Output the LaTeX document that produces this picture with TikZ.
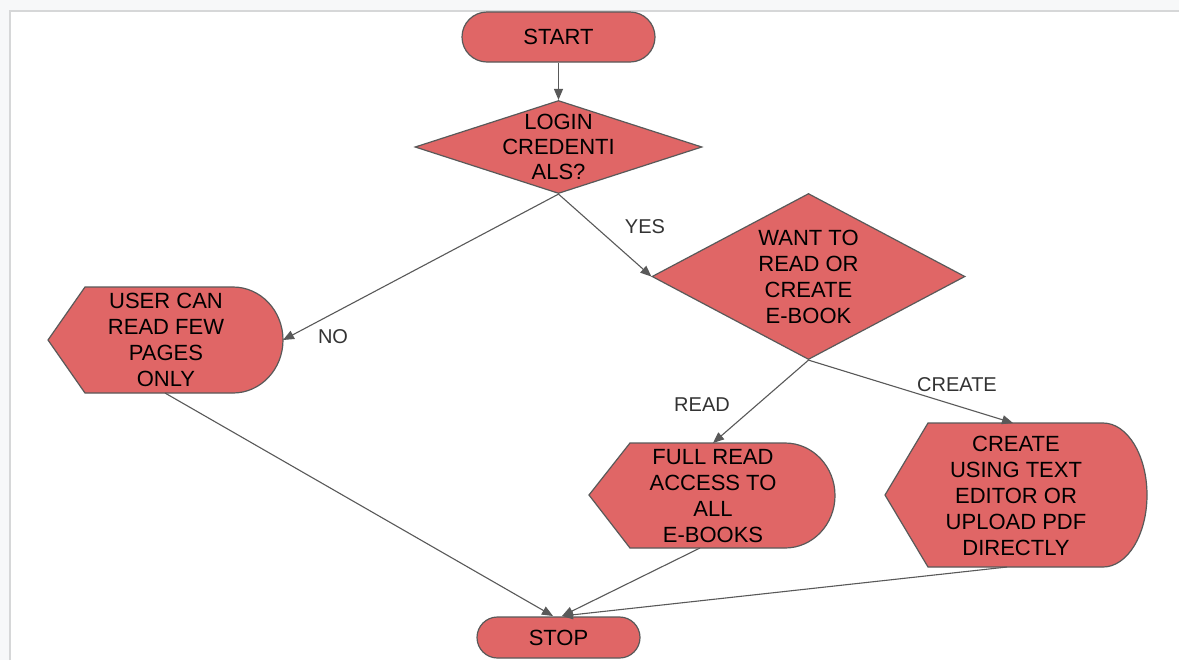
\documentclass[tikz,border=0pt]{standalone}
\usepackage{fontspec}
\setmainfont{Liberation Sans}
\usetikzlibrary{arrows.meta,shapes.geometric}
\definecolor{boxred}{HTML}{E06666}
\definecolor{edgegray}{HTML}{595959}
\definecolor{pagegray}{HTML}{F7F8F9}
\definecolor{frameline}{HTML}{D6D7D8}
\definecolor{labelgray}{HTML}{333333}
\begin{document}
\begin{tikzpicture}[x=0.5pt,y=-0.5pt,
  shapebox/.style={draw=edgegray, fill=boxred, line width=0.6pt},
  txt/.style={align=center, font=\fontsize{11}{13}\selectfont, text=black, inner sep=0pt},
  lbl/.style={font=\fontsize{10}{12}\selectfont, text=labelgray, inner sep=0pt},
  conn/.style={draw=edgegray, line width=0.55pt, -{Triangle[length=5.5pt,width=4.5pt]}},
]
\useasboundingbox (0,0) rectangle (1179,660);
% page background and frame
\fill[pagegray] (0,0) rectangle (1179,660);
\fill[white] (10,11) rectangle (1179,660);
\draw[frameline, line width=1pt] (9.5,660) -- (9.5,10.5) -- (1179,10.5);

% start / stop
\node[shapebox, rectangle, rounded corners=12.5pt, minimum width=96.5pt, minimum height=25pt, txt] (start) at (558.5,37) {START};
\node[shapebox, rectangle, rounded corners=10.25pt, minimum width=81.5pt, minimum height=20.5pt, txt] (stop) at (558.5,637.5) {STOP};

% decisions
\node[shapebox, diamond, minimum width=143.5pt, minimum height=46.5pt, inner sep=0pt] (login) at (558.5,147) {};
\node[txt, text width=70pt, font=\fontsize{11}{12.5}\selectfont] (logintext) at (login) {LOGIN\\CREDENTI\\ALS?};
\node[shapebox, diamond, minimum width=156.5pt, minimum height=83pt, inner sep=0pt] (want) at (808.5,276.5) {};
\node[txt] (wanttext) at (want) {WANT TO\\READ OR\\CREATE\\E-BOOK};

% display shapes
\path[shapebox] (48,340) -- (85,287) -- (233,287)
  arc[start angle=-90, end angle=90, x radius=50, y radius=53] -- (85,393) -- cycle;
\node[txt] (user) at (166,339.5) {USER CAN\\READ FEW\\PAGES\\ONLY};
\coordinate (user-e) at (283,340);
\coordinate (user-s) at (165,393);

\path[shapebox] (589,495) -- (630,443) -- (785,443)
  arc[start angle=-90, end angle=90, x radius=50, y radius=52.5] -- (630,548) -- cycle;
\node[txt] (full) at (713,496) {FULL READ\\ACCESS TO\\ALL\\E-BOOKS};
\coordinate (full-n) at (713,443);
\coordinate (full-s) at (700,548);

\path[shapebox] (885,495) -- (928,423) -- (1103,423)
  arc[start angle=-90, end angle=90, x radius=44, y radius=72] -- (928,567) -- cycle;
\node[txt] (create) at (1016,495.5) {CREATE\\USING TEXT\\EDITOR OR\\UPLOAD PDF\\DIRECTLY};
\coordinate (create-n) at (1013,423);
\coordinate (create-s) at (1007,567);

\coordinate (stop-a) at (553,616);
\coordinate (stop-b) at (562,616);

% connectors
\draw[conn] (start) -- (login);
\draw[conn] (login.south) -- (user-e);
\draw[conn] (login.south) -- (want.west);
\draw[conn] (want.south) -- (full-n);
\draw[conn] (want.south) -- (create-n);
\draw[conn] (user-s) -- (stop-a);
\draw[conn] (full-s) -- (stop-b);
\draw[conn] (create-s) -- (stop-b);

% labels
\node[lbl] (no) at (333,337) {NO};
\node[lbl] (yes) at (645,227) {YES};
\node[lbl] (read) at (702,405) {READ};
\node[lbl] (createlbl) at (957,385) {CREATE};
\end{tikzpicture}
\end{document}
